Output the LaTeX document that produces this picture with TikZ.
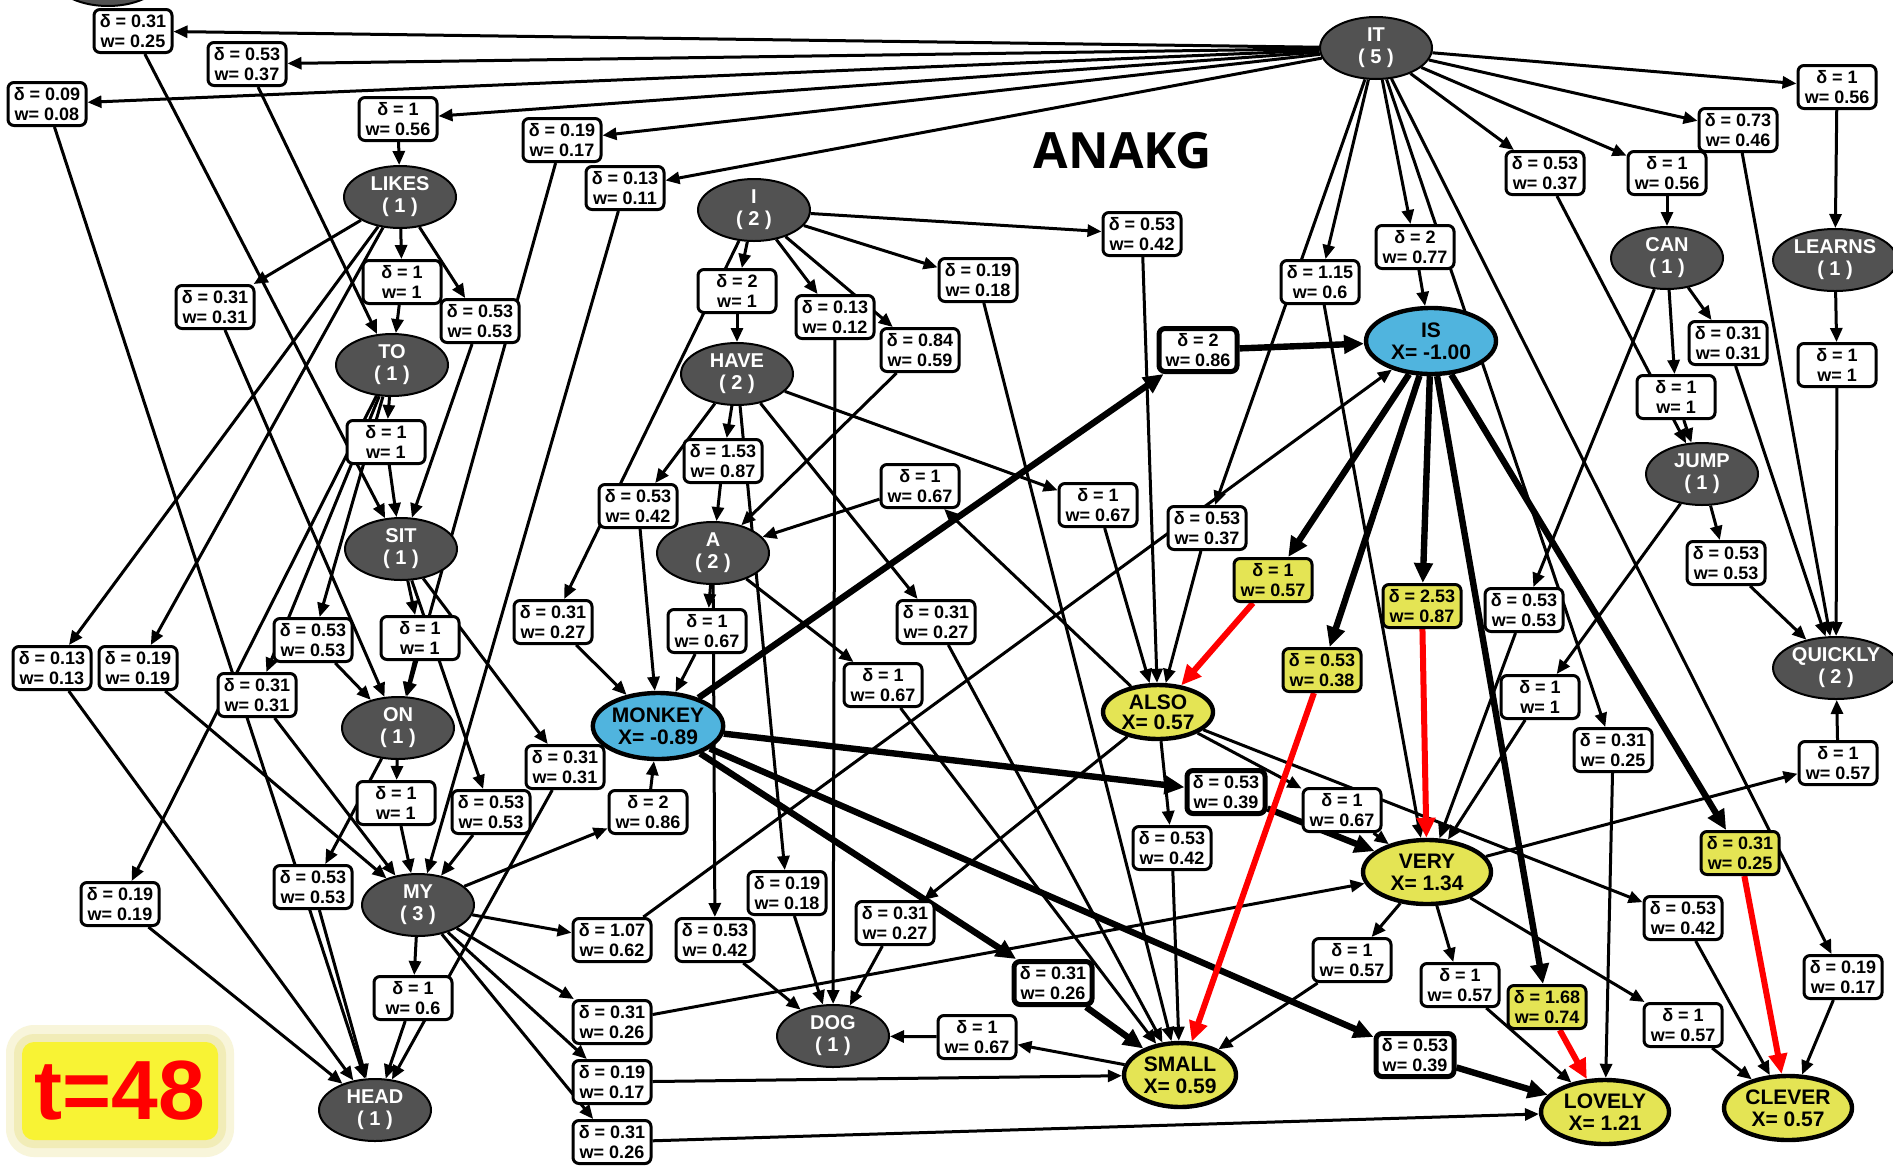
\documentclass[tikz,border=0pt]{standalone}
\usepackage{fontspec}
\setmainfont{Liberation Sans}
\newfontfamily\titlefont{Open Sans}
\usetikzlibrary{shapes.geometric,arrows.meta,backgrounds}
\definecolor{dgray}{RGB}{82,82,82}
\definecolor{blu}{RGB}{80,180,222}
\definecolor{ylw}{RGB}{228,228,84}
\definecolor{tyel}{RGB}{248,243,52}
\definecolor{glow}{RGB}{236,228,150}
\newcommand\dw[2]{δ = #1\\w= #2}
\begin{document}
\begin{tikzpicture}[x=0.5pt,y=-0.5pt,
 wbox/.style={draw=black, line width=1.5pt, rounded corners=3pt, fill=white, minimum width=39pt, minimum height=21.5pt, inner sep=0pt, align=center, font=\fontsize{9}{10}\selectfont\bfseries},
 ybox/.style={wbox, fill=ylw},
 bbox/.style={wbox, line width=2.5pt},
 dnode/.style={ellipse, draw=black, line width=1pt, fill=dgray, text=white, minimum width=56pt, minimum height=31pt, inner sep=0pt, align=center, font=\fontsize{10}{11}\selectfont\bfseries},
 cnode/.style={ellipse, draw=black, line width=2.2pt, minimum width=64pt, minimum height=32pt, inner sep=0pt, align=center, font=\fontsize{10.5}{11}\selectfont\bfseries},
 bnode/.style={cnode, fill=blu},
 ynode/.style={cnode, fill=ylw},
 e/.style={line width=1.5pt, -{Triangle[length=7pt,width=6pt]}},
 eb/.style={line width=3.2pt, -{Triangle[length=10pt,width=9pt]}},
 er/.style={line width=3pt, draw=red, -{Triangle[length=10pt,width=9pt]}}
]
\useasboundingbox (0,0) rectangle (1893,1168);

% word nodes
\node[dnode] (cut) at (108,-25) {};
\node[dnode] (IT) at (1376,48) {IT\\( 5 )};
\node[dnode] (LIKES) at (400,197) {LIKES\\( 1 )};
\node[dnode] (TO) at (392,365) {TO\\( 1 )};
\node[dnode] (SIT) at (401,549) {SIT\\( 1 )};
\node[dnode] (ON) at (398,728) {ON\\( 1 )};
\node[dnode] (MY) at (418,905) {MY\\( 3 )};
\node[dnode] (HEAD) at (375,1110) {HEAD\\( 1 )};
\node[dnode] (I) at (754,210) {I\\( 2 )};
\node[dnode] (HAVE) at (737,374) {HAVE\\( 2 )};
\node[dnode] (A) at (713,553) {A\\( 2 )};
\node[dnode] (DOG) at (833,1036) {DOG\\( 1 )};
\node[dnode] (CAN) at (1667,258) {CAN\\( 1 )};
\node[dnode, minimum width=62pt] (LEARNS) at (1835,260) {LEARNS\\( 1 )};
\node[dnode] (JUMP) at (1702,474) {JUMP\\( 1 )};
\node[dnode, minimum width=63pt] (QUICKLY) at (1836,668) {QUICKLY\\( 2 )};
\node[bnode, minimum width=65pt, minimum height=33pt] (IS) at (1431,341) {IS\\X= -1.00};
\node[bnode, minimum width=65pt, minimum height=33pt] (MONKEY) at (658,726) {MONKEY\\X= -0.89};
\node[ynode, minimum width=55pt, minimum height=27pt, font=\fontsize{10.5}{10}\selectfont\bfseries] (ALSO) at (1158,712) {ALSO\\X= 0.57};
\node[ynode] (VERY) at (1427,872) {VERY\\X= 1.34};
\node[ynode, minimum width=56pt] (SMALL) at (1180,1075) {SMALL\\X= 0.59};
\node[ynode] (LOVELY) at (1605,1112) {LOVELY\\X= 1.21};
\node[ynode] (CLEVER) at (1788,1108) {CLEVER\\X= 0.57};

% label boxes
\node[wbox] (b1) at (133,31) {\dw{0.31}{0.25}};
\node[wbox] (b2) at (247,64) {\dw{0.53}{0.37}};
\node[wbox] (b3) at (47,104) {\dw{0.09}{0.08}};
\node[wbox] (b4) at (398,119) {\dw{1}{0.56}};
\node[wbox] (b5) at (562,140) {\dw{0.19}{0.17}};
\node[wbox] (b6) at (625,188) {\dw{0.13}{0.11}};
\node[wbox] (b7) at (402,282) {\dw{1}{1}};
\node[wbox] (b8) at (215,307) {\dw{0.31}{0.31}};
\node[wbox] (b9) at (480,321) {\dw{0.53}{0.53}};
\node[wbox] (b10) at (386,442) {\dw{1}{1}};
\node[wbox] (b11) at (420,638) {\dw{1}{1}};
\node[wbox] (b12) at (313,640) {\dw{0.53}{0.53}};
\node[wbox] (b13) at (257,695) {\dw{0.31}{0.31}};
\node[wbox] (b14) at (52,668) {\dw{0.13}{0.13}};
\node[wbox] (b15) at (138,668) {\dw{0.19}{0.19}};
\node[wbox] (b16) at (396,803) {\dw{1}{1}};
\node[wbox] (b17) at (491,812) {\dw{0.53}{0.53}};
\node[wbox] (b18) at (313,887) {\dw{0.53}{0.53}};
\node[wbox] (b19) at (120,904) {\dw{0.19}{0.19}};
\node[wbox] (b20) at (413,998) {\dw{1}{0.6}};
\node[wbox] (b21) at (553,622) {\dw{0.31}{0.27}};
\node[wbox] (b22) at (565,767) {\dw{0.31}{0.31}};
\node[wbox] (b23) at (648,812) {\dw{2}{0.86}};
\node[wbox] (b24) at (612,940) {\dw{1.07}{0.62}};
\node[wbox] (b25) at (612,1022) {\dw{0.31}{0.26}};
\node[wbox] (b26) at (612,1082) {\dw{0.19}{0.17}};
\node[wbox] (b27) at (612,1142) {\dw{0.31}{0.26}};
\node[wbox] (b28) at (715,940) {\dw{0.53}{0.42}};
\node[wbox] (b29) at (787,893) {\dw{0.19}{0.18}};
\node[wbox] (b30) at (895,923) {\dw{0.31}{0.27}};
\node[wbox] (b31) at (977,1037) {\dw{1}{0.67}};
\node[bbox] (b32) at (1053,983) {\dw{0.31}{0.26}};
\node[wbox] (b33) at (1172,848) {\dw{0.53}{0.42}};
\node[bbox] (b34) at (1226,792) {\dw{0.53}{0.39}};
\node[wbox] (b35) at (1342,810) {\dw{1}{0.67}};
\node[wbox] (b36) at (1352,960) {\dw{1}{0.57}};
\node[bbox] (b37) at (1415,1055) {\dw{0.53}{0.39}};
\node[wbox] (b38) at (1460,985) {\dw{1}{0.57}};
\node[ybox] (b39) at (1547,1007) {\dw{1.68}{0.74}};
\node[wbox] (b40) at (1683,918) {\dw{0.53}{0.42}};
\node[wbox] (b41) at (1683,1025) {\dw{1}{0.57}};
\node[ybox] (b42) at (1740,853) {\dw{0.31}{0.25}};
\node[wbox] (b43) at (1843,977) {\dw{0.19}{0.17}};
\node[wbox] (b44) at (1838,763) {\dw{1}{0.57}};
\node[wbox] (b45) at (1613,750) {\dw{0.31}{0.25}};
\node[wbox] (b46) at (1540,697) {\dw{1}{1}};
\node[wbox] (b47) at (1524,610) {\dw{0.53}{0.53}};
\node[wbox] (b48) at (1726,563) {\dw{0.53}{0.53}};
\node[ybox] (b49) at (1422,606) {\dw{2.53}{0.87}};
\node[ybox] (b50) at (1273,580) {\dw{1}{0.57}};
\node[ybox] (b51) at (1322,670) {\dw{0.53}{0.38}};
\node[wbox] (b52) at (1207,528) {\dw{0.53}{0.37}};
\node[wbox] (b53) at (1098,505) {\dw{1}{0.67}};
\node[wbox] (b54) at (920,486) {\dw{1}{0.67}};
\node[wbox] (b55) at (936,622) {\dw{0.31}{0.27}};
\node[wbox] (b56) at (883,685) {\dw{1}{0.67}};
\node[wbox] (b57) at (723,461) {\dw{1.53}{0.87}};
\node[wbox] (b58) at (638,506) {\dw{0.53}{0.42}};
\node[wbox] (b59) at (707,631) {\dw{1}{0.67}};
\node[wbox] (b60) at (737,291) {\dw{2}{1}};
\node[wbox] (b61) at (835,317) {\dw{0.13}{0.12}};
\node[wbox] (b62) at (920,350) {\dw{0.84}{0.59}};
\node[wbox] (b63) at (978,280) {\dw{0.19}{0.18}};
\node[wbox] (b64) at (1142,234) {\dw{0.53}{0.42}};
\node[bbox] (b65) at (1198,350) {\dw{2}{0.86}};
\node[wbox] (b66) at (1320,282) {\dw{1.15}{0.6}};
\node[wbox] (b67) at (1415,247) {\dw{2}{0.77}};
\node[wbox] (b68) at (1545,173) {\dw{0.53}{0.37}};
\node[wbox] (b69) at (1667,173) {\dw{1}{0.56}};
\node[wbox] (b70) at (1738,130) {\dw{0.73}{0.46}};
\node[wbox] (b71) at (1837,87) {\dw{1}{0.56}};
\node[wbox] (b72) at (1728,343) {\dw{0.31}{0.31}};
\node[wbox] (b73) at (1676,397) {\dw{1}{1}};
\node[wbox] (b74) at (1837,365) {\dw{1}{1}};

% title and time stamp
\node[font=\titlefont\bfseries\fontsize{25}{25}\selectfont] (title) at (1123,151) {ANAKG};
\node[fill=glow, opacity=0.35, rounded corners=14pt, minimum width=114pt, minimum height=66pt] (tglow2) at (120,1091) {};
\node[fill=glow, opacity=0.5, rounded corners=10pt, minimum width=106pt, minimum height=57pt] (tglow) at (120,1091) {};
\node[fill=tyel, rounded corners=6pt, minimum width=98pt, minimum height=49pt, inner sep=0pt, text=red, font=\bfseries\fontsize{42}{42}\selectfont] (tbox) at (120,1091) {t=48};

\begin{pgfonlayer}{background}
\fill[white] (0,0) rectangle (1893,1168);
\foreach \s/\b/\t in {IT/b1/SIT, IT/b2/TO, IT/b3/HEAD, IT/b4/LIKES, IT/b5/ON, IT/b6/MY,
 LIKES/b7/TO, LIKES/b8/ON, LIKES/b9/SIT, LIKES/b14/HEAD, LIKES/b15/MY,
 TO/b10/SIT, TO/b12/ON, TO/b13/MY, TO/b19/HEAD,
 SIT/b11/ON, SIT/b17/MY, SIT/b22/HEAD,
 ON/b16/MY, ON/b18/HEAD,
 MY/b20/HEAD, MY/b23/MONKEY, MY/b24/IS, MY/b25/VERY, MY/b26/SMALL, MY/b27/LOVELY,
 I/b60/HAVE, I/b61/DOG, I/b62/A, I/b63/SMALL, I/b64/ALSO, I/b21/MONKEY,
 HAVE/b57/A, HAVE/b58/MONKEY, HAVE/b53/ALSO, HAVE/b55/SMALL, HAVE/b29/DOG,
 A/b59/MONKEY, A/b56/SMALL, A/b28/DOG,
 ALSO/b54/A, ALSO/b33/SMALL, ALSO/b30/DOG, ALSO/b35/VERY, ALSO/b40/CLEVER,
 SMALL/b31/DOG,
 VERY/b36/SMALL, VERY/b38/LOVELY, VERY/b41/CLEVER, VERY/b44/QUICKLY,
 IT/b45/LOVELY, IT/b43/CLEVER, IT/b66/VERY, IT/b52/ALSO, IT/b67/IS, IT/b68/JUMP, IT/b69/CAN, IT/b70/QUICKLY, IT/b71/LEARNS,
 CAN/b73/JUMP, CAN/b72/QUICKLY, CAN/b47/VERY,
 JUMP/b46/VERY, JUMP/b48/QUICKLY,
 LEARNS/b74/QUICKLY}
 {\draw[e] (\s) -- (\b); \draw[e] (\b) -- (\t);}
\foreach \s/\b/\t in {MONKEY/b65/IS, MONKEY/b34/VERY, MONKEY/b32/SMALL, MONKEY/b37/LOVELY}
 {\draw[eb] (\s) -- (\b); \draw[eb] (\b) -- (\t);}
\foreach \s/\b/\t in {IS/b50/ALSO, IS/b51/SMALL, IS/b49/VERY, IS/b39/LOVELY, IS/b42/CLEVER}
 {\draw[eb] (\s) -- (\b); \draw[er] (\b) -- (\t);}
\end{pgfonlayer}
\end{tikzpicture}
\end{document}
